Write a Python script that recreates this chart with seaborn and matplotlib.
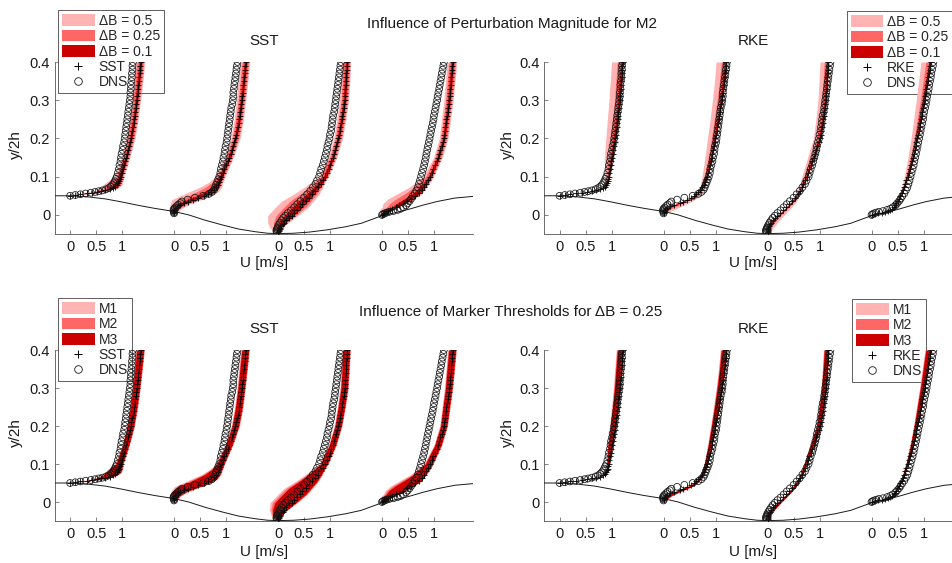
import numpy as np
import pandas as pd
import matplotlib
matplotlib.use("Agg")
import matplotlib.pyplot as plt
from matplotlib.patches import Patch
from matplotlib.lines import Line2D
import seaborn as sns

# ---------------- values ----------------
STATION_OFFSET = [0.0, 2.0, 4.0, 6.0]
U_TICKS = [0.0, 0.5, 1.0]
U_TICK_LABELS = ["0", "0.5", "1"]
Y_TICKS = [0.0, 0.1, 0.2, 0.3, 0.4]
Y_TICK_LABELS = ["0", "0.1", "0.2", "0.3", "0.4"]

# lower wall (hill) shape
WALL_X = [-0.30, 0.0, 0.35, 0.67, 0.99, 1.31, 1.63, 2.0, 2.28, 2.6, 2.92, 3.24, 3.56,
          3.8, 4.0, 4.3, 4.6, 4.95, 5.3, 5.6, 6.0, 6.3, 6.55, 6.8, 7.06, 7.4, 7.8]
WALL_Y = [0.050, 0.050, 0.047, 0.042, 0.034, 0.025, 0.017, 0.009, 0.0, -0.014, -0.026,
          -0.037, -0.044, -0.048, -0.049, -0.048, -0.045, -0.039, -0.031, -0.022, -0.002,
          0.007, 0.016, 0.026, 0.035, 0.044, 0.049]

# common upper y levels (y/2h)
Y_UPPER = [0.10, 0.11, 0.12, 0.13, 0.14, 0.15, 0.16, 0.17, 0.18, 0.19, 0.20, 0.21, 0.22,
           0.23, 0.24, 0.25, 0.26, 0.27, 0.28, 0.29, 0.30, 0.31, 0.32, 0.33, 0.34, 0.35,
           0.36, 0.37, 0.38, 0.39, 0.40]

# ---- station 1 ----
Y_NEAR_1 = [0.050, 0.052, 0.054, 0.056, 0.058, 0.060, 0.062, 0.064, 0.067, 0.070, 0.074,
            0.078, 0.083, 0.088, 0.094]
DNS_1 = [0.00, 0.10, 0.20, 0.30, 0.40, 0.48, 0.55, 0.62, 0.69, 0.74, 0.78, 0.81, 0.84, 0.86, 0.88,
         0.90, 0.92, 0.94, 0.95, 0.97, 0.98, 0.99, 1.01, 1.02, 1.04, 1.05, 1.06, 1.07, 1.08, 1.09,
         1.10, 1.11, 1.12, 1.13, 1.14, 1.15, 1.16, 1.16, 1.17, 1.17, 1.18, 1.19, 1.19, 1.20, 1.20, 1.21]
SST_1 = [0.00, 0.10, 0.20, 0.32, 0.42, 0.52, 0.60, 0.68, 0.76, 0.82, 0.87, 0.90, 0.92, 0.94, 0.96,
         0.97, 0.99, 1.01, 1.03, 1.06, 1.08, 1.10, 1.12, 1.14, 1.155, 1.17, 1.18, 1.19, 1.21, 1.22,
         1.23, 1.24, 1.25, 1.26, 1.27, 1.28, 1.29, 1.30, 1.30, 1.31, 1.32, 1.33, 1.34, 1.34, 1.35, 1.36]
RKE_1 = [0.00, 0.10, 0.21, 0.32, 0.43, 0.53, 0.62, 0.70, 0.78, 0.84, 0.88, 0.90, 0.92, 0.93, 0.94,
         0.95, 0.96, 0.97, 0.98, 0.99, 1.01, 1.02, 1.03, 1.04, 1.06, 1.07, 1.08, 1.09, 1.10, 1.11,
         1.12, 1.13, 1.13, 1.14, 1.15, 1.16, 1.17, 1.17, 1.18, 1.18, 1.19, 1.20, 1.20, 1.21, 1.21, 1.22]

# ---- station 2 ----
Y_NEAR_2 = [0.004, 0.007, 0.010, 0.013, 0.016, 0.019, 0.023, 0.027, 0.031, 0.035, 0.040,
            0.045, 0.050, 0.055, 0.060, 0.066, 0.072, 0.079, 0.086, 0.093]
DNS_2 = [0.00, 0.00, -0.01, -0.01, 0.00, 0.02, 0.05, 0.08, 0.12, 0.15, 0.26, 0.40, 0.56, 0.67,
         0.73, 0.77, 0.79, 0.81, 0.83, 0.85,
         0.87, 0.89, 0.90, 0.92, 0.94, 0.95, 0.97, 0.98, 0.99, 1.01, 1.02, 1.03, 1.04, 1.05, 1.06,
         1.07, 1.08, 1.09, 1.10, 1.12, 1.13, 1.14, 1.14, 1.15, 1.16, 1.17, 1.18, 1.19, 1.20, 1.21, 1.22]
SST_2 = [0.00, 0.00, 0.00, 0.01, 0.02, 0.04, 0.07, 0.12, 0.19, 0.27, 0.37, 0.47, 0.57, 0.65,
         0.71, 0.77, 0.81, 0.85, 0.87, 0.89,
         0.91, 0.94, 0.97, 1.00, 1.03, 1.06, 1.09, 1.11, 1.14, 1.16, 1.18, 1.20, 1.21, 1.23, 1.24,
         1.25, 1.26, 1.27, 1.28, 1.29, 1.30, 1.31, 1.32, 1.33, 1.33, 1.34, 1.35, 1.36, 1.36, 1.37, 1.38]
RKE_2 = [0.00, 0.00, 0.01, 0.02, 0.04, 0.07, 0.12, 0.21, 0.31, 0.37, 0.45, 0.52, 0.58, 0.63,
         0.67, 0.71, 0.74, 0.77, 0.79, 0.82,
         0.83, 0.85, 0.87, 0.89, 0.91, 0.925, 0.94, 0.955, 0.97, 0.98, 0.995, 1.01, 1.02, 1.035,
         1.045, 1.06, 1.07, 1.08, 1.09, 1.105, 1.12, 1.13, 1.14, 1.15, 1.16, 1.17, 1.18, 1.19,
         1.20, 1.205, 1.21]

# ---- station 3 ----
Y_NEAR_3 = [-0.046, -0.043, -0.040, -0.037, -0.034, -0.030, -0.025, -0.020, -0.014, -0.008,
            -0.002, 0.005, 0.012, 0.020, 0.028, 0.036, 0.045, 0.054, 0.063, 0.072, 0.081, 0.090]
DNS_3 = [-0.02, -0.03, -0.03, -0.02, -0.01, 0.00, 0.02, 0.04, 0.07, 0.10, 0.14, 0.19, 0.25, 0.31,
         0.37, 0.43, 0.50, 0.56, 0.62, 0.67, 0.72, 0.75,
         0.79, 0.81, 0.83, 0.86, 0.88, 0.90, 0.92, 0.94, 0.95, 0.97, 0.99, 1.00, 1.02, 1.03, 1.04,
         1.05, 1.06, 1.08, 1.09, 1.10, 1.11, 1.12, 1.13, 1.14, 1.15, 1.16, 1.17, 1.18, 1.19, 1.20, 1.21]
SST_3 = [0.00, 0.01, 0.02, 0.03, 0.04, 0.06, 0.09, 0.12, 0.16, 0.21, 0.26, 0.31, 0.36, 0.42,
         0.47, 0.53, 0.59, 0.65, 0.71, 0.77, 0.82, 0.87,
         0.91, 0.945, 0.975, 1.00, 1.025, 1.05, 1.075, 1.095, 1.115, 1.14, 1.16, 1.175, 1.19, 1.20,
         1.215, 1.225, 1.235, 1.245, 1.26, 1.27, 1.28, 1.285, 1.29, 1.295, 1.30, 1.305, 1.31,
         1.315, 1.32, 1.325, 1.33]
RKE_3 = [0.00, 0.00, 0.00, 0.00, 0.01, 0.02, 0.04, 0.07, 0.11, 0.15, 0.19, 0.24, 0.30, 0.36,
         0.42, 0.48, 0.53, 0.58, 0.62, 0.66, 0.69, 0.72,
         0.75, 0.78, 0.80, 0.83, 0.86, 0.89, 0.92, 0.94, 0.96, 0.985, 1.01, 1.02, 1.03, 1.05, 1.06,
         1.07, 1.08, 1.09, 1.10, 1.11, 1.12, 1.125, 1.13, 1.135, 1.14, 1.145, 1.15, 1.155, 1.16,
         1.165, 1.17]

# ---- station 4 ----
Y_NEAR_4 = [0.000, 0.002, 0.004, 0.006, 0.008, 0.010, 0.013, 0.016, 0.020, 0.025, 0.030,
            0.036, 0.042, 0.049, 0.056, 0.064, 0.072, 0.081, 0.090]
DNS_4 = [0.00, 0.02, 0.05, 0.09, 0.14, 0.22, 0.30, 0.36, 0.41, 0.46, 0.49, 0.53, 0.56, 0.59,
         0.63, 0.66, 0.69, 0.71, 0.73,
         0.75, 0.77, 0.79, 0.81, 0.825, 0.84, 0.855, 0.87, 0.885, 0.90, 0.915, 0.93, 0.945, 0.96,
         0.975, 0.99, 1.00, 1.015, 1.03, 1.045, 1.06, 1.07, 1.085, 1.10, 1.11, 1.125, 1.14, 1.15,
         1.165, 1.18, 1.19]
SST_4 = [0.00, 0.01, 0.03, 0.05, 0.08, 0.11, 0.15, 0.20, 0.26, 0.33, 0.40, 0.48, 0.56, 0.64,
         0.71, 0.76, 0.80, 0.85, 0.89,
         0.93, 0.96, 0.99, 1.02, 1.05, 1.08, 1.10, 1.12, 1.15, 1.17, 1.19, 1.20, 1.21, 1.22, 1.23,
         1.24, 1.25, 1.26, 1.27, 1.28, 1.29, 1.30, 1.305, 1.31, 1.32, 1.325, 1.33, 1.34, 1.345,
         1.35, 1.36]
RKE_4 = [0.00, 0.06, 0.13, 0.20, 0.26, 0.31, 0.36, 0.39, 0.43, 0.46, 0.48, 0.51, 0.53, 0.55,
         0.58, 0.60, 0.63, 0.65, 0.67,
         0.70, 0.72, 0.74, 0.76, 0.78, 0.80, 0.815, 0.83, 0.85, 0.865, 0.88, 0.895, 0.91, 0.925,
         0.94, 0.95, 0.965, 0.98, 0.99, 1.005, 1.02, 1.03, 1.045, 1.055, 1.07, 1.08, 1.095,
         1.105, 1.12, 1.13, 1.14]

# ---- uncertainty bands: levels (indices into each station's y list) and widths (widest band) ----
BAND_IDX_1 = [0, 3, 6, 9, 11, 13, 15, 20, 25, 30, 35, 40, 45]
BAND_IDX_2 = [0, 4, 7, 10, 12, 14, 16, 18, 20, 25, 30, 35, 40, 45, 50]
BAND_IDX_3 = [0, 4, 7, 10, 13, 15, 17, 19, 21, 22, 27, 32, 37, 42, 47, 52]
BAND_IDX_4 = [0, 3, 6, 8, 10, 12, 14, 16, 18, 19, 24, 29, 34, 39, 44, 49]

SST_BAND_L_1 = [0.0, 0.05, 0.15, 0.25, 0.27, 0.22, 0.12, 0.09, 0.09, 0.095, 0.10, 0.105, 0.11]
SST_BAND_R_1 = [0.0, 0.05, 0.08, 0.10, 0.10, 0.08, 0.06, 0.07, 0.08, 0.08, 0.08, 0.08, 0.08]
RKE_BAND_L_1 = [0.0, 0.01, 0.02, 0.03, 0.04, 0.05, 0.08, 0.15, 0.18, 0.20, 0.21, 0.215, 0.22]
RKE_BAND_R_1 = [0.0, 0.01, 0.02, 0.02, 0.02, 0.02, 0.02, 0.02, 0.02, 0.02, 0.02, 0.02, 0.02]

SST_BAND_L_2 = [0.03, 0.10, 0.20, 0.41, 0.45, 0.43, 0.32, 0.20, 0.12, 0.09, 0.09, 0.095, 0.10, 0.105, 0.11]
SST_BAND_R_2 = [0.05, 0.12, 0.16, 0.16, 0.15, 0.14, 0.10, 0.07, 0.07, 0.08, 0.09, 0.085, 0.08, 0.08, 0.08]
RKE_BAND_L_2 = [0.0, 0.0, 0.0, 0.0, 0.0, 0.02, 0.04, 0.07, 0.09, 0.13, 0.15, 0.165, 0.18, 0.19, 0.20]
RKE_BAND_R_2 = [0.05, 0.20, 0.20, 0.15, 0.12, 0.08, 0.05, 0.03, 0.02, 0.02, 0.02, 0.02, 0.02, 0.02, 0.02]

SST_BAND_L_3 = [0.05, 0.20, 0.32, 0.46, 0.47, 0.46, 0.35, 0.27, 0.19, 0.13, 0.09, 0.09, 0.095, 0.10, 0.105, 0.11]
SST_BAND_R_3 = [0.03, 0.05, 0.08, 0.12, 0.16, 0.15, 0.14, 0.09, 0.05, 0.06, 0.08, 0.08, 0.08, 0.08, 0.075, 0.07]
RKE_BAND_L_3 = [0.0, 0.0, 0.0, 0.0, 0.0, 0.02, 0.04, 0.06, 0.08, 0.09, 0.12, 0.13, 0.14, 0.15, 0.155, 0.16]
RKE_BAND_R_3 = [0.05, 0.10, 0.12, 0.12, 0.10, 0.08, 0.05, 0.03, 0.02, 0.02, 0.02, 0.02, 0.02, 0.02, 0.02, 0.02]

SST_BAND_L_4 = [0.02, 0.07, 0.20, 0.26, 0.38, 0.44, 0.41, 0.28, 0.20, 0.14, 0.09, 0.09, 0.095, 0.10, 0.105, 0.11]
SST_BAND_R_4 = [0.02, 0.04, 0.05, 0.06, 0.06, 0.06, 0.06, 0.06, 0.06, 0.06, 0.08, 0.08, 0.08, 0.08, 0.08, 0.08]
RKE_BAND_L_4 = [0.0, 0.01, 0.01, 0.02, 0.02, 0.03, 0.04, 0.05, 0.06, 0.07, 0.10, 0.12, 0.14, 0.16, 0.175, 0.19]
RKE_BAND_R_4 = [0.01, 0.02, 0.02, 0.02, 0.02, 0.02, 0.02, 0.02, 0.02, 0.02, 0.02, 0.02, 0.02, 0.02, 0.02, 0.02]

# relative width of each of the three shaded layers per panel
BAND_SCALE_TL = [1.0, 0.65, 0.3]
BAND_SCALE_TR = [1.0, 0.5, 0.2]
BAND_SCALE_BL = [0.9, 0.8, 0.7]
BAND_SCALE_BR = [0.6, 0.55, 0.5]

LABELS_DB = ["\u0394B = 0.5", "\u0394B = 0.25", "\u0394B = 0.1"]
LABELS_M = ["M1", "M2", "M3"]
BAND_COLORS = ["#ffb3b3", "#ff6666", "#cc0000"]

# ---------------- assemble ----------------
Y_ST = [Y_NEAR_1 + Y_UPPER, Y_NEAR_2 + Y_UPPER, Y_NEAR_3 + Y_UPPER, Y_NEAR_4 + Y_UPPER]
DNS_ST = [DNS_1, DNS_2, DNS_3, DNS_4]
MODEL_ST = {"SST": [SST_1, SST_2, SST_3, SST_4], "RKE": [RKE_1, RKE_2, RKE_3, RKE_4]}
BAND_IDX = [BAND_IDX_1, BAND_IDX_2, BAND_IDX_3, BAND_IDX_4]
BAND_L = {"SST": [SST_BAND_L_1, SST_BAND_L_2, SST_BAND_L_3, SST_BAND_L_4],
          "RKE": [RKE_BAND_L_1, RKE_BAND_L_2, RKE_BAND_L_3, RKE_BAND_L_4]}
BAND_R = {"SST": [SST_BAND_R_1, SST_BAND_R_2, SST_BAND_R_3, SST_BAND_R_4],
          "RKE": [RKE_BAND_R_1, RKE_BAND_R_2, RKE_BAND_R_3, RKE_BAND_R_4]}

sns.set_theme(style="ticks")
plt.rcParams["font.family"] = ["Liberation Sans", "DejaVu Sans"]
plt.rcParams["axes.linewidth"] = 0.6

W, H = 953, 563
fig = plt.figure(figsize=(W / 100, H / 100), dpi=100)
fig.patch.set_facecolor("white")

PANELS = [
    dict(model="SST", left=55, top=62, bottom=234, scales=BAND_SCALE_TL, labels=LABELS_DB,
         leg=(58, 10), legloc="upper left", title="SST", xlab=263, ylab_x=16),
    dict(model="RKE", left=544.5, top=62, bottom=234, scales=BAND_SCALE_TR, labels=LABELS_DB,
         leg=(952.5, 11), legloc="upper right", title="RKE", xlab=263, ylab_x=508),
    dict(model="SST", left=55, top=350, bottom=521, scales=BAND_SCALE_BL, labels=LABELS_M,
         leg=(58, 298), legloc="upper left", title="SST", xlab=552, ylab_x=16),
    dict(model="RKE", left=544.5, top=350, bottom=521, scales=BAND_SCALE_BR, labels=LABELS_M,
         leg=(852, 299), legloc="upper left", title="RKE", xlab=552, ylab_x=508),
]

for p in PANELS:
    axw = 418
    axh = p["bottom"] - p["top"]
    ax = fig.add_axes([p["left"] / W, 1 - p["bottom"] / H, axw / W, axh / H])
    ax.set_facecolor("white")
    model = p["model"]

    # shaded bands
    for s in range(4):
        idx = BAND_IDX[s]
        yb = np.array(Y_ST[s])[idx]
        mb = np.array(MODEL_ST[model][s])[idx] + STATION_OFFSET[s]
        bl = np.array(BAND_L[model][s])
        br = np.array(BAND_R[model][s])
        for k, (sc, col) in enumerate(zip(p["scales"], BAND_COLORS)):
            ax.fill_betweenx(yb, mb - sc * bl, mb + sc * br, color=col, lw=0, zorder=1 + k)

    # wall
    ax.plot(WALL_X, WALL_Y, color="#1a1a1a", lw=0.7, zorder=4)

    rows_m, rows_d = [], []
    for s in range(4):
        for yv, uv in zip(Y_ST[s], MODEL_ST[model][s]):
            rows_m.append((STATION_OFFSET[s] + uv, yv))
        for yv, uv in zip(Y_ST[s], DNS_ST[s]):
            rows_d.append((STATION_OFFSET[s] + uv, yv))
    dfm = pd.DataFrame(rows_m, columns=["x", "y"])
    dfd = pd.DataFrame(rows_d, columns=["x", "y"])
    sns.scatterplot(data=dfm, x="x", y="y", marker="+", color="black", s=20,
                    linewidth=0.6, ax=ax, zorder=5, legend=False)
    sns.scatterplot(data=dfd, x="x", y="y", marker="o", facecolors="none",
                    edgecolor="#151515", s=24, linewidth=0.55, ax=ax, zorder=6, legend=False)

    ax.set_xlim(-0.29, 7.75)
    ax.set_ylim(-0.05, 0.4)
    xt, xl = [], []
    for off in STATION_OFFSET:
        for t, lab in zip(U_TICKS, U_TICK_LABELS):
            xt.append(off + t)
            xl.append(lab)
    ax.set_xticks(xt)
    ax.set_xticklabels(xl)
    ax.set_yticks(Y_TICKS)
    ax.set_yticklabels(Y_TICK_LABELS)
    ax.tick_params(direction="in", length=3, width=0.5, labelsize=10.5, colors="#555555",
                   labelcolor="#1a1a1a")
    ax.tick_params(axis="x", pad=4)
    ax.tick_params(axis="y", pad=3.5)
    for sp in ["top", "right"]:
        ax.spines[sp].set_visible(False)
    for sp in ["left", "bottom"]:
        ax.spines[sp].set_color("#555555")
        ax.spines[sp].set_linewidth(0.6)

    ax.set_xlabel("U [m/s]", fontsize=11, va="center", color="#1a1a1a")
    ax.xaxis.set_label_coords(0.5, -(p["xlab"] - p["bottom"]) / axh)
    ax.set_ylabel("y/2h", fontsize=11, va="center", color="#1a1a1a")
    ax.yaxis.set_label_coords((p["ylab_x"] - p["left"]) / axw, 0.52)
    ax.set_title(p["title"], fontsize=11, y=1.12, va="center", pad=0, color="#1a1a1a")

    handles = [Patch(facecolor=c, edgecolor="none") for c in BAND_COLORS]
    handles += [Line2D([], [], ls="none", marker="+", color="black", ms=6, mew=0.7),
                Line2D([], [], ls="none", marker="o", mfc="none", mec="#1a1a1a", ms=5.5, mew=0.6)]
    labels = list(p["labels"]) + [model, "DNS"]
    leg = ax.legend(handles, labels, loc=p["legloc"],
                    bbox_to_anchor=(p["leg"][0] / W, 1 - p["leg"][1] / H),
                    bbox_transform=fig.transFigure, borderaxespad=0, frameon=True,
                    fancybox=False, framealpha=1, edgecolor="#444444", fontsize=10,
                    handlelength=2.35, handleheight=0.9, handletextpad=0.3,
                    labelspacing=0.1, borderpad=0.28)
    leg.get_frame().set_linewidth(0.6)
    leg.set_zorder(0.5)

fig.text(512 / W, 1 - 24 / H, "Influence of Perturbation Magnitude for M2",
         ha="center", va="center", fontsize=11, color="#1a1a1a")
fig.text(511 / W, 1 - 312 / H, "Influence of Marker Thresholds for \u0394B = 0.25",
         ha="center", va="center", fontsize=11, color="#1a1a1a")

fig.savefig("out.png", dpi=100, facecolor="white")
